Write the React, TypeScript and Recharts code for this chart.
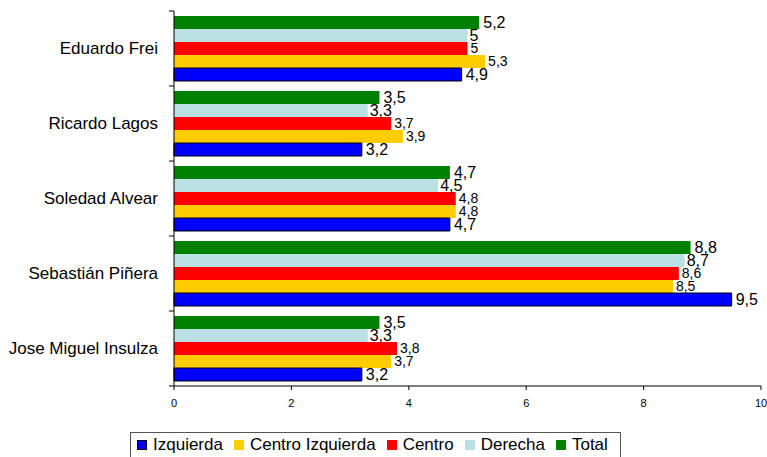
import React from "react";
import { BarChart, Bar, XAxis, YAxis, Legend, LabelList } from "recharts";

const candidates = ["Eduardo Frei", "Ricardo Lagos", "Soledad Alvear", "Sebastián Piñera", "Jose Miguel Insulza"];
const izquierda = [4.9, 3.2, 4.7, 9.5, 3.2];
const centroIzquierda = [5.3, 3.9, 4.8, 8.5, 3.7];
const centro = [5, 3.7, 4.8, 8.6, 3.8];
const derecha = [5, 3.3, 4.5, 8.7, 3.3];
const total = [5.2, 3.5, 4.7, 8.8, 3.5];
const xTicks = [0, 2, 4, 6, 8, 10];

const data = candidates.map((name, i) => ({
  name,
  izquierda: izquierda[i],
  centroIzquierda: centroIzquierda[i],
  centro: centro[i],
  derecha: derecha[i],
  total: total[i],
}));

const FONT = "'Liberation Sans', Arial, sans-serif";
const W = 767;
const H = 457;
const MARGIN = { top: 11, right: 6, left: 0, bottom: 0 };
const X_AXIS_H = 45;
const LEGEND_H = 26;
const PLOT_H = H - MARGIN.top - MARGIN.bottom - X_AXIS_H - LEGEND_H;
const BAND = PLOT_H / candidates.length;

const legendItems = [
  { label: "Izquierda", color: "#0000FF", border: "#000" },
  { label: "Centro Izquierda", color: "#FFCC00", border: null },
  { label: "Centro", color: "#FF0000", border: null },
  { label: "Derecha", color: "#BBE0E3", border: null },
  { label: "Total", color: "#008000", border: null },
];

const fmt = (v: any) => String(v).replace(".", ",");

const YTick = (props: any) => {
  const { x, y, payload, index } = props;
  const lx = x + 11;
  return (
    <g>
      <line x1={lx} x2={lx + 5} y1={y - BAND / 2} y2={y - BAND / 2} stroke="#000" />
      {index === candidates.length - 1 && (
        <line x1={lx} x2={lx + 5} y1={y + BAND / 2} y2={y + BAND / 2} stroke="#000" />
      )}
      <text x={x} y={y} dy="0.35em" textAnchor="end" fontSize={17} fontFamily={FONT} fill="#000">
        {payload.value}
      </text>
    </g>
  );
};

const LegendContent = () => (
  <div
    style={{
      boxSizing: "border-box",
      height: LEGEND_H,
      border: "1px solid #555",
      display: "inline-flex",
      alignItems: "center",
      padding: "0 12px 0 6px",
      fontFamily: FONT,
      fontSize: 17,
      color: "#000",
      background: "#fff",
    }}
  >
    {legendItems.map((it, i) => (
      <span key={it.label} style={{ display: "inline-flex", alignItems: "center", marginLeft: i === 0 ? 0 : 11 }}>
        <span
          style={{
            display: "inline-block",
            boxSizing: "border-box",
            width: 10,
            height: 10,
            background: it.color,
            border: it.border ? `1px solid ${it.border}` : "none",
            marginRight: 6,
          }}
        />
        <span>{it.label}</span>
      </span>
    ))}
  </div>
);

const bigLabel = { fontSize: 16, fontFamily: FONT, fill: "#000" };
const smallLabel = { fontSize: 14, fontFamily: FONT, fill: "#000" };

export default function App() {
  return (
    <div style={{ position: "absolute", left: 0, top: 0, width: W, height: H, background: "#fff" }}>
      <BarChart
        width={W}
        height={H}
        data={data}
        layout="vertical"
        margin={MARGIN}
        barCategoryGap={5}
        barGap={0}
      >
        <XAxis
          type="number"
          domain={[0, 10]}
          ticks={xTicks}
          interval={0}
          height={X_AXIS_H}
          tickSize={4}
          tickMargin={9}
          axisLine={{ stroke: "#000" }}
          tickLine={{ stroke: "#000" }}
          tick={{ fontSize: 11, fontFamily: FONT, fill: "#000" }}
        />
        <XAxis
          xAxisId="top"
          orientation="top"
          type="number"
          domain={[0, 10]}
          height={0}
          tick={false}
          tickLine={false}
          axisLine={{ stroke: "#777" }}
        />
        <YAxis
          type="category"
          dataKey="name"
          width={174}
          tickSize={5}
          tickMargin={11}
          tickLine={false}
          axisLine={{ stroke: "#000" }}
          tick={<YTick />}
          interval={0}
        />
        <YAxis
          yAxisId="right"
          orientation="right"
          type="category"
          dataKey="name"
          width={0}
          tick={false}
          tickLine={false}
          axisLine={{ stroke: "#000" }}
        />
        <Legend
          verticalAlign="bottom"
          content={<LegendContent />}
          wrapperStyle={{ left: 130, bottom: -1, width: "auto", height: LEGEND_H }}
        />
        <Bar dataKey="total" name="Total" fill="#008000" isAnimationActive={false}>
          <LabelList dataKey="total" position="right" offset={4} formatter={fmt} style={bigLabel} />
        </Bar>
        <Bar dataKey="derecha" name="Derecha" fill="#BBE0E3" isAnimationActive={false}>
          <LabelList dataKey="derecha" position="right" offset={2} formatter={fmt} style={bigLabel} />
        </Bar>
        <Bar dataKey="centro" name="Centro" fill="#FF0000" isAnimationActive={false}>
          <LabelList dataKey="centro" position="right" offset={3} formatter={fmt} style={smallLabel} />
        </Bar>
        <Bar dataKey="centroIzquierda" name="Centro Izquierda" fill="#FFCC00" isAnimationActive={false}>
          <LabelList dataKey="centroIzquierda" position="right" offset={3} formatter={fmt} style={smallLabel} />
        </Bar>
        <Bar dataKey="izquierda" name="Izquierda" fill="#0000FF" stroke="#000" strokeWidth={1} isAnimationActive={false}>
          <LabelList dataKey="izquierda" position="right" offset={4} formatter={fmt} style={bigLabel} />
        </Bar>
      </BarChart>
    </div>
  );
}
